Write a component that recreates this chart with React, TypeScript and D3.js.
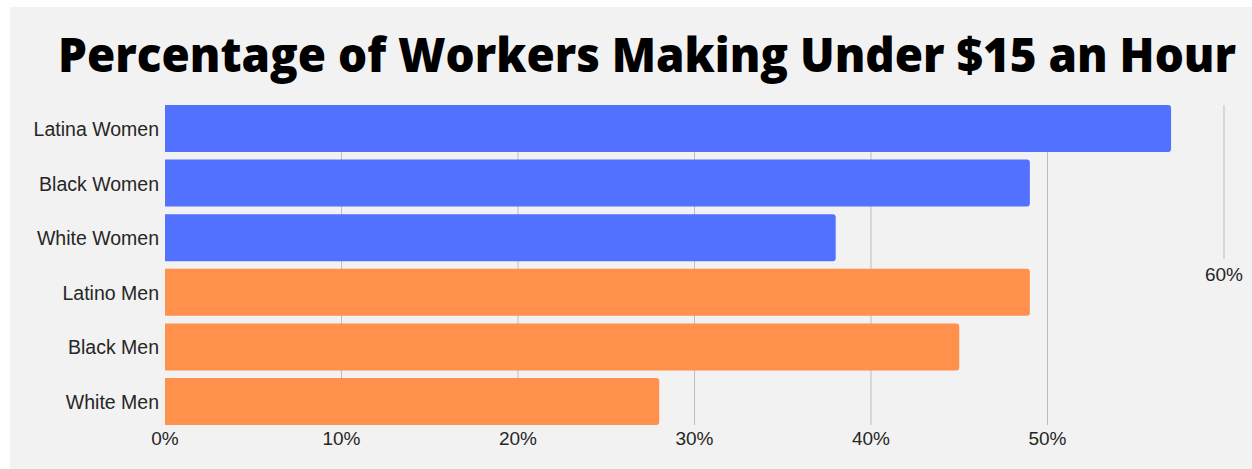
import React from "react";
import * as d3 from "d3";

const categories = ["Latina Women", "Black Women", "White Women", "Latino Men", "Black Men", "White Men"];
const values = [57, 49, 38, 49, 45, 28];
const groups = ["women", "women", "women", "men", "men", "men"];
const ticks = [0, 10, 20, 30, 40, 50];
const title = "Percentage of Workers Making Under $15 an Hour";

const W = 1252, H = 469;

export default function App() {
  const x = d3.scaleLinear().domain([0, 60]).range([165, 1224]);
  const y = d3.scaleBand<string>().domain(categories).range([105, 425]).paddingInner(0.14).paddingOuter(0);
  const color = d3.scaleOrdinal<string, string>().domain(["women", "men"]).range(["#5271ff", "#ff914d"]);
  const font = "'Liberation Sans', Arial, sans-serif";
  return (
    <svg width={W} height={H} style={{ position: "absolute", left: 0, top: 0, display: "block" }}>
      <rect x={0} y={0} width={W} height={H} fill="#ffffff" />
      <rect x={10} y={7} width={W - 10} height={H - 7} fill="#f2f2f2" />
      <text x={647} y={72} textAnchor="middle" fontFamily="'Open Sans', sans-serif" fontWeight={800}
        fontSize={47} fill="#000" textLength={1178} lengthAdjust="spacingAndGlyphs">{title}</text>
      {ticks.filter(t => t > 0).map(t => (
        <line key={t} x1={x(t)} x2={x(t)} y1={152} y2={425} stroke="#bdbdbd" strokeWidth={1} />
      ))}
      <line x1={x(60)} x2={x(60)} y1={105} y2={259} stroke="#bdbdbd" strokeWidth={1} />
      {categories.map((c, i) => {
        const x0 = x(0), x1 = x(values[i]);
        const yy = y(c)!, h = y.bandwidth(), r = 3;
        const d = `M${x0},${yy}H${x1 - r}Q${x1},${yy} ${x1},${yy + r}V${yy + h - r}Q${x1},${yy + h} ${x1 - r},${yy + h}H${x0}Z`;
        return <path key={c} d={d} fill={color(groups[i])} />;
      })}
      {categories.map(c => (
        <text key={c} x={159} y={y(c)! + y.bandwidth() / 2 + 7.5} textAnchor="end"
          fontFamily={font} fontSize={19.5} fill="#262626">{c}</text>
      ))}
      {ticks.map(t => (
        <text key={t} x={x(t)} y={445} textAnchor="middle" fontFamily={font} fontSize={19} fill="#262626">{t}%</text>
      ))}
      <text x={x(60)} y={281} textAnchor="middle" fontFamily={font} fontSize={19} fill="#262626">60%</text>
    </svg>
  );
}
